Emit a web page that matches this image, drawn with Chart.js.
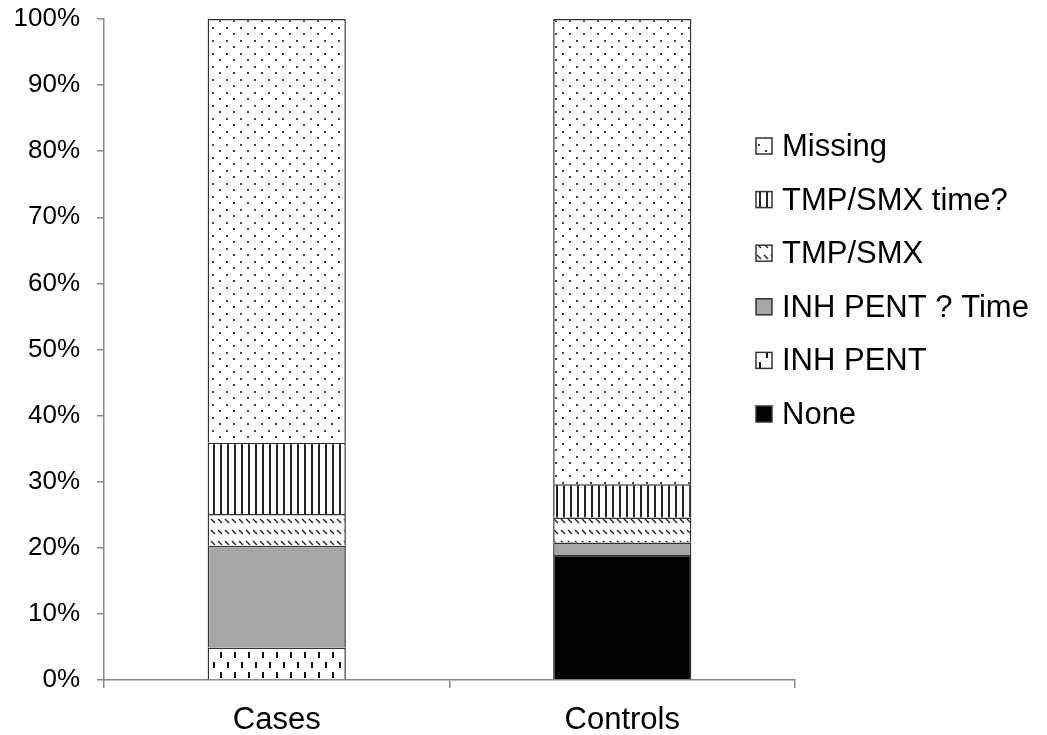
<!DOCTYPE html>
<html>
<head>
<meta charset="utf-8">
<script src="https://cdn.jsdelivr.net/npm/chart.js@4/dist/chart.umd.min.js"></script>
<style>
  html, body { margin: 0; padding: 0; background: #fff; }
  #wrap { width: 1047px; height: 735px; position: relative; }
</style>
</head>
<body>
<div id="wrap"><canvas id="myChart"></canvas></div>
<script>
// data (percent of each group)
const categories = ["Cases", "Controls"];
const seriesNames = ["None", "INH PENT", "INH PENT ? Time", "TMP/SMX", "TMP/SMX time?", "Missing"];
const none        = [null, 18.9];
const inhPent     = [4.9, null];
const inhPentTime = [15.4, 1.9];
const tmpSmx      = [4.8, 3.8];
const tmpSmxTime  = [10.8, 5.0];
const missing     = [64.1, 70.4];
const yTicks = [0, 10, 20, 30, 40, 50, 60, 70, 80, 90, 100];

// fill patterns, like the old excel ones
function makePattern(w, h, draw) {
  var c = document.createElement("canvas");
  c.width = w; c.height = h;
  var x = c.getContext("2d");
  x.fillStyle = "#fff";
  x.fillRect(0, 0, w, h);
  draw(x);
  return x.createPattern(c, "repeat");
}

var dots = makePattern(14, 13, function(x){
  x.fillStyle = "#444";
  x.fillRect(2, 1, 2, 2);
  x.fillRect(9, 7, 2, 2);
});
var vlines = makePattern(7, 7, function(x){
  x.fillStyle = "#222";
  x.fillRect(3, 0, 2, 7);
});
var diag = makePattern(7, 11, function(x){
  x.strokeStyle = "#222";
  x.lineWidth = 1.4;
  x.beginPath();
  x.moveTo(1, 2);
  x.lineTo(5, 6);
  x.stroke();
});
var vdash = makePattern(14, 20, function(x){
  x.fillStyle = "#111";
  x.fillRect(3, 2, 2, 6);
  x.fillRect(10, 12, 2, 6);
});

var fills = ["#000000", vdash, "#a6a6a6", diag, vlines, dots];
var values = [none, inhPent, inhPentTime, tmpSmx, tmpSmxTime, missing];

var datasets = [];
for (let i = 0; i < seriesNames.length; i++) {
  datasets.push({
    label: seriesNames[i],
    data: values[i],
    backgroundColor: fills[i],
    borderColor: "#333",
    borderWidth: 1.5,
    barPercentage: 0.4,
    categoryPercentage: 1.0
  });
}

// legend on the right, top entry = last series
var sideLegend = {
  id: "sideLegend",
  afterDraw(chart) {
    var ctx = chart.ctx;
    var ds = chart.data.datasets;
    ctx.save();
    ctx.font = '31px "Liberation Sans", Arial, sans-serif';
    ctx.textBaseline = "alphabetic";
    for (let i = 0; i < ds.length; i++) {
      var d = ds[ds.length - 1 - i];
      var cy = 146 + i * 53.6;
      ctx.fillStyle = d.backgroundColor;
      ctx.fillRect(756, cy - 8, 16, 16);
      ctx.strokeStyle = "#333";
      ctx.lineWidth = 1.5;
      ctx.strokeRect(756, cy - 8, 16, 16);
      ctx.fillStyle = "#000";
      ctx.fillText(d.label, 782, cy + 10);
    }
    ctx.restore();
  }
};

new Chart("myChart", {
  type: "bar",
  data: {
    labels: categories,
    datasets: datasets
  },
  plugins: [sideLegend],
  options: {
    responsive: true,
    maintainAspectRatio: false,
    animation: false,
    layout: { padding: { left: 0, top: 19, right: 252, bottom: 0 } },
    plugins: {
      legend: { display: false },
      tooltip: { enabled: false }
    },
    scales: {
      x: {
        stacked: true,
        afterFit: function(axis){ axis.height = 55; },
        grid: { display: true, drawOnChartArea: false, drawTicks: true, tickLength: 8, color: "#888", lineWidth: 1.5, offset: true },
        border: { color: "#888", width: 1.5 },
        ticks: { color: "#000", padding: 14, font: { family: "Liberation Sans", size: 31 } }
      },
      y: {
        stacked: true,
        min: 0,
        max: 100,
        afterFit: function(axis){
          axis.width = 104;
          axis.paddingTop = 0;
          axis.paddingBottom = 0;
        },
        afterBuildTicks: function(axis){ axis.ticks = yTicks.map(function(v){ return { value: v }; }); },
        grid: { display: true, drawOnChartArea: false, drawTicks: true, tickLength: 7, color: "#888", lineWidth: 1.5 },
        border: { color: "#888", width: 1.5 },
        ticks: {
          color: "#000",
          padding: 17,
          font: { family: "Liberation Sans", size: 26 },
          callback: function(v){ return v + "%"; }
        }
      }
    }
  }
});
</script>
</body>
</html>
